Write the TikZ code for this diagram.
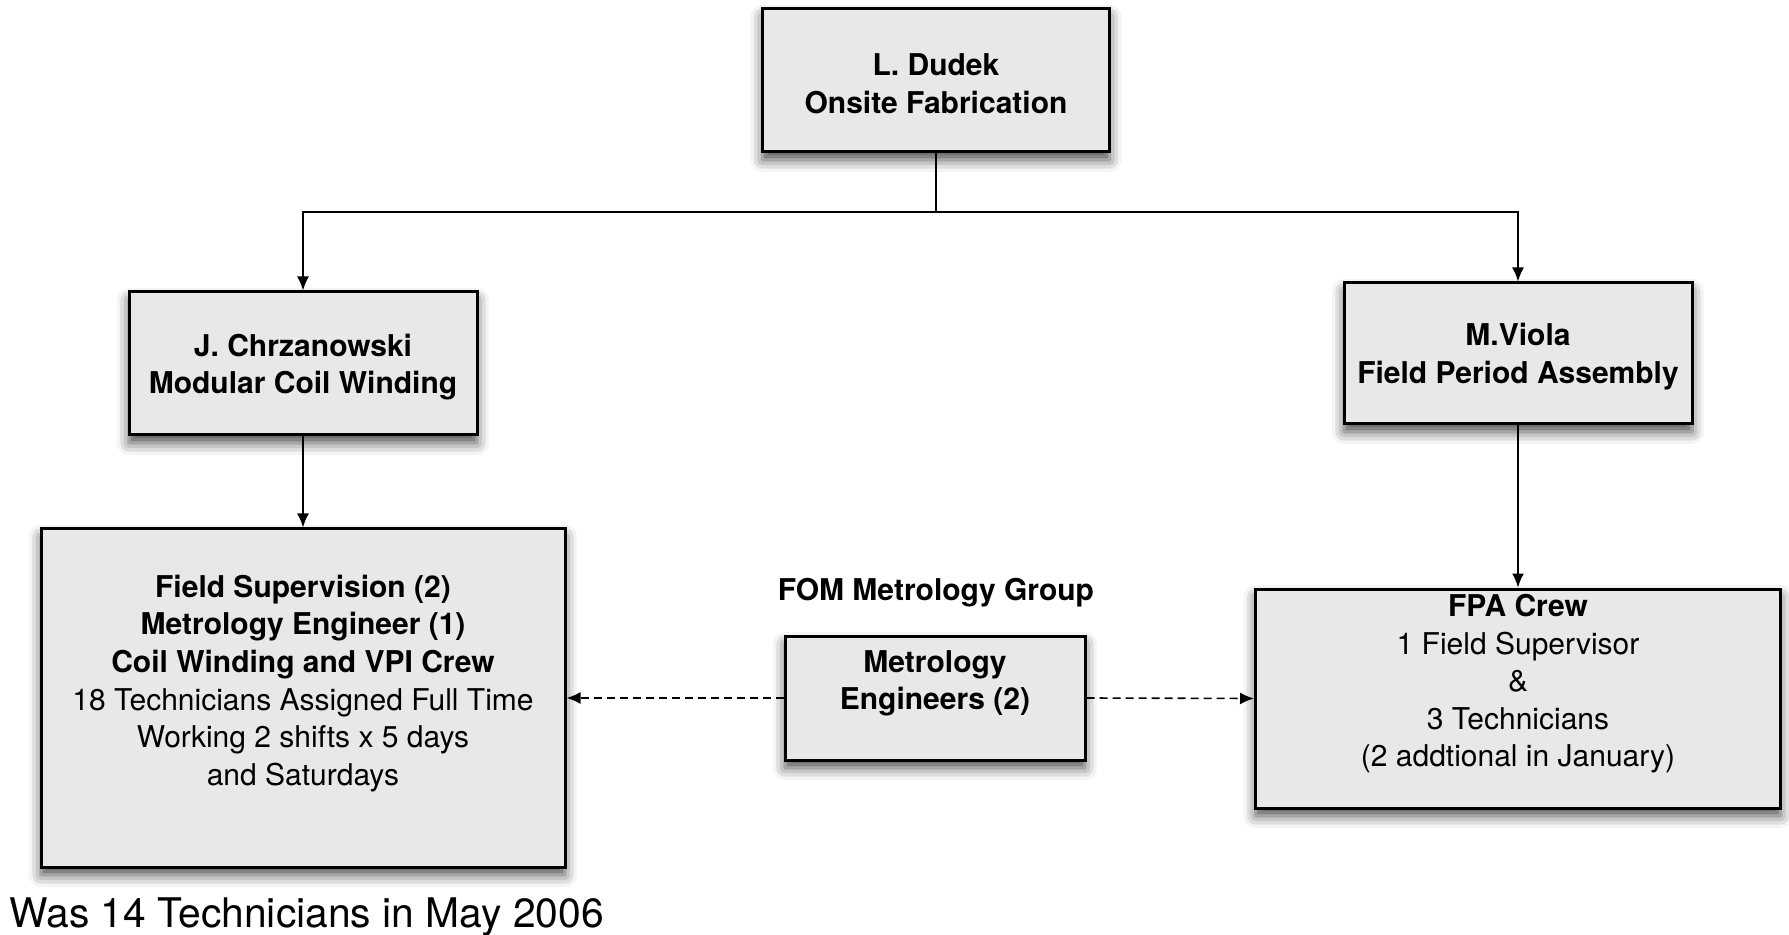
\documentclass[tikz,border=0pt]{standalone}
\usepackage{fontspec}
\setmainfont{TeX Gyre Heros}
\usetikzlibrary{arrows.meta,shadows.blur}
\definecolor{boxgray}{RGB}{232,232,232}
\newcommand{\orgfont}{\fontsize{15}{18.8}\selectfont}
\tikzset{
  orgbox/.style={draw=black, line width=1.5pt, fill=boxgray, inner sep=0pt,
    blur shadow={shadow xshift=0pt, shadow yshift=-4pt, shadow blur radius=6pt, shadow opacity=70}},
  boxtext/.style={align=center, font=\orgfont\bfseries, inner sep=0pt},
  link/.style={line width=0.8pt, -{Latex[length=7pt,width=6pt]}},
  dotlink/.style={link, dash pattern=on 4pt off 2.5pt},
}
\begin{document}
\begin{tikzpicture}[x=0.5pt,y=-0.5pt]
  \useasboundingbox (0,0) rectangle (1789,935);
  % managers
  \node[orgbox, minimum width=173.5pt, minimum height=71.5pt] (dudek) at (936,80.5) {};
  \node[boxtext, yshift=-1.7pt] (dudektxt) at (dudek.center) {L. Dudek\\Onsite Fabrication};
  \node[orgbox, minimum width=174pt, minimum height=71.5pt] (chrz) at (303,363.5) {};
  \node[boxtext, yshift=-1.7pt] (chrztxt) at (chrz.center) {J. Chrzanowski\\Modular Coil Winding};
  \node[orgbox, minimum width=174pt, minimum height=70.5pt] (viola) at (1518,353.5) {};
  \node[boxtext, yshift=-1.7pt] (violatxt) at (viola.center) {M.Viola\\Field Period Assembly};
  % crews
  \node[orgbox, minimum width=262pt, minimum height=169pt] (mccrew) at (303,698) {};
  \node[boxtext, yshift=7.3pt] (mccrewtxt) at (mccrew.center) {Field Supervision (2)\\Metrology Engineer (1)\\Coil Winding and VPI Crew\\
    \mdseries 18 Technicians Assigned Full Time\\\mdseries Working 2 shifts x 5 days\\\mdseries and Saturdays};
  \node[orgbox, minimum width=150pt, minimum height=62pt] (metro) at (935,698) {};
  \node[boxtext, yshift=7.3pt] (metrotxt) at (metro.center) {Metrology\\Engineers (2)};
  \node[orgbox, minimum width=262.5pt, minimum height=109.5pt] (fpa) at (1518,698.5) {};
  \node[boxtext, yshift=7.3pt] (fpatxt) at (fpa.center) {FPA Crew\\\mdseries 1 Field Supervisor\\\mdseries \&\\
    \mdseries 3 Technicians\\\mdseries (2 addtional in January)};
  \node[boxtext] (fom) at (936,592.4) {FOM Metrology Group};
  \node[anchor=base west, inner sep=0pt, font=\fontsize{20.4}{24}\selectfont] (wasnote) at (9,927.5) {Was 14 Technicians in May 2006};
  % connectors
  \coordinate (split) at (936,212);
  \draw[line width=0.8pt] (dudek.south) -- (split);
  \draw[link] (split) -| (chrz.north);
  \draw[link] (split) -| (viola.north);
  \draw[link] (chrz.south) -- (mccrew.north);
  \draw[link] (viola.south) -- (fpa.north);
  \draw[dotlink] (metro.west) -- (mccrew.east);
  \draw[dotlink] (metro.east) -- (fpa.west);
\end{tikzpicture}
\end{document}
